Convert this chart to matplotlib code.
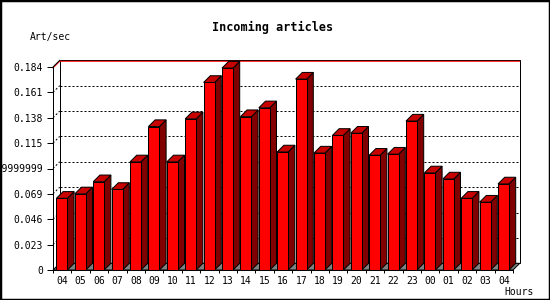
import matplotlib
matplotlib.use("Agg")
import matplotlib.pyplot as plt
from matplotlib.patches import Polygon, Rectangle

# hourly incoming article rate
hours = ["04", "05", "06", "07", "08", "09", "10", "11", "12", "13", "14", "15", "16",
         "17", "18", "19", "20", "21", "22", "23", "00", "01", "02", "03", "04"]
rates = [0.065, 0.069, 0.080, 0.073, 0.098, 0.130, 0.098, 0.137, 0.170, 0.183,
         0.139, 0.147, 0.107, 0.173, 0.106, 0.122, 0.124, 0.104, 0.105, 0.135,
         0.088, 0.0825, 0.065, 0.0615, 0.078]
ytick_vals = [0, 0.023, 0.046, 0.069, 0.092, 0.115, 0.138, 0.161, 0.184]
ytick_text = ["0", "0.023", "0.046", "0.069", "0.09199999999999999", "0.115",
              "0.138", "0.161", "0.184"]
ymax = 0.184

plt.rcParams["lines.scale_dashes"] = False
mono = "DejaVu Sans Mono"
px = 0.72  # one pixel in points at dpi 100

fig = plt.figure(figsize=(5.5, 3), dpi=100)
ax_l, ax_b, ax_w, ax_h = 53, 30, 460, 203
ax = fig.add_axes([ax_l / 550, ax_b / 300, ax_w / 550, ax_h / 300])
n = len(rates)
ax.set_xlim(0, n)
ax.set_ylim(0, ymax)
for s in ax.spines.values():
    s.set_visible(False)
ax.patch.set_visible(False)

# 3d depth in data units
depth = 6.7
dx = depth * n / ax_w
dy = depth * ymax / ax_h
onepx_y = ymax / ax_h

# back wall
ax.add_patch(Rectangle((dx, dy), n, ymax, facecolor="white", edgecolor="black",
                       lw=px, clip_on=False, zorder=1))
# floor
ax.add_patch(Polygon([(0, 0), (n, 0), (n + dx, dy), (dx, dy)], closed=True,
                     facecolor="#808080", edgecolor="black", lw=px, clip_on=False, zorder=2))

# grid lines on the back wall and left side
for t in ytick_vals[1:-1]:
    ax.plot([dx, n + dx], [t + dy, t + dy], color="black", lw=px,
            ls=(0, (2 * px, 2 * px)), clip_on=False, zorder=1.5)
    ax.plot([0, dx], [t, t + dy], color="black", lw=px,
            ls=(0, (2 * px, 2 * px)), clip_on=False, zorder=1.5)

# max line (red)
ax.plot([0, dx, n + dx], [ymax - onepx_y, ymax + dy - onepx_y, ymax + dy - onepx_y],
        color="red", lw=px, clip_on=False, zorder=1.6)
# left edges
ax.plot([0, 0], [0, ymax], color="black", lw=px, clip_on=False, zorder=5)
ax.plot([0, dx], [ymax, ymax + dy], color="black", lw=px, clip_on=False, zorder=1.6)

# bars
off = 3.4 * n / ax_w
bw = 11 * n / ax_w
for i, v in enumerate(rates):
    x0 = i + off
    x1 = x0 + bw
    ax.add_patch(Polygon([(x1, 0), (x1, v), (x1 + dx, v + dy), (x1 + dx, dy)], closed=True,
                         facecolor="#800000", edgecolor="black", lw=px, clip_on=False, zorder=3))
    ax.add_patch(Polygon([(x0, v), (x1, v), (x1 + dx, v + dy), (x0 + dx, v + dy)], closed=True,
                         facecolor="#C80000", edgecolor="black", lw=px, clip_on=False, zorder=3))
    ax.add_patch(Rectangle((x0, 0), bw, v, facecolor="#FF0000", edgecolor="black",
                           lw=px, clip_on=False, zorder=4))

ax.plot([0, n], [0, 0], color="black", lw=px, clip_on=False, zorder=5)

# ticks
ax.set_yticks(ytick_vals)
ax.set_yticklabels(ytick_text, fontsize=7, family=mono)
ax.tick_params(axis="y", length=3 / px * px * 1.4, width=px, pad=3)
ax.set_xticks(range(n + 1))
ax.set_xticklabels([])
ax.set_xticks([i + 0.5 for i in range(n)], minor=True)
ax.set_xticklabels(hours, minor=True, fontsize=7, family=mono)
ax.tick_params(axis="x", which="major", length=3 * px, width=px)
ax.tick_params(axis="x", which="minor", length=0, pad=4)

fig.text(273 / 550, 1 - 27 / 300, "Incoming articles", ha="center", va="center",
         fontsize=8.5, fontweight="bold", family=mono)
fig.text(30 / 550, 1 - 37 / 300, "Art/sec", ha="left", va="center", fontsize=7, family=mono)
fig.text(534 / 550, 1 - 292 / 300, "Hours", ha="right", va="center", fontsize=7, family=mono)

fig.patches.append(Rectangle((0, 0), 1, 1, transform=fig.transFigure, fill=False,
                             edgecolor="black", lw=2.5))

fig.savefig("out.png", dpi=100)
